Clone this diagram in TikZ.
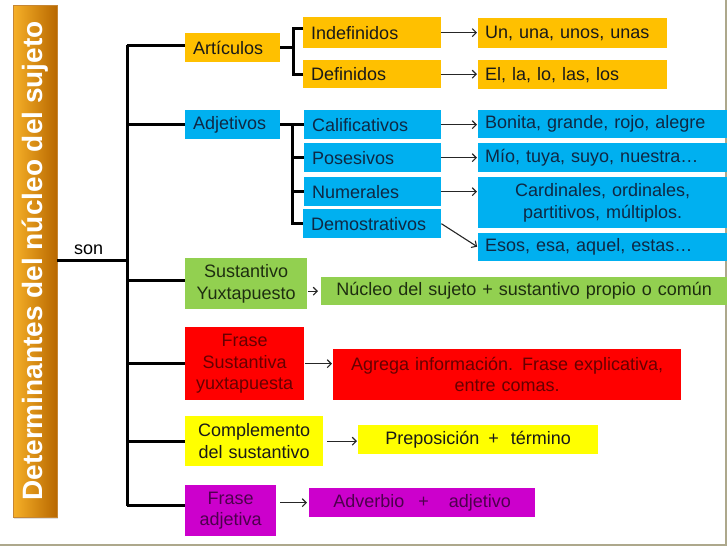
\documentclass[tikz,border=0pt]{standalone}
\usepackage{fontspec}
\setmainfont{Liberation Sans}
\usetikzlibrary{arrows.meta}
\usetikzlibrary{shadows}

\definecolor{artorange}{HTML}{FFC000}
\definecolor{adjblue}{HTML}{00B0F0}
\definecolor{sustgreen}{HTML}{92D050}
\definecolor{frasered}{HTML}{FF0000}
\definecolor{complyellow}{HTML}{FFFF00}
\definecolor{adjpurple}{HTML}{CC00CC}
\definecolor{framegray}{HTML}{ADA88C}
\definecolor{barlight}{HTML}{F6B028}
\definecolor{bardark}{HTML}{B86800}

\tikzstyle{cell}=[rectangle, anchor=north west, inner xsep=8pt, inner ysep=0pt,
  font=\fontsize{18}{21.5}\selectfont]
\tikzstyle{lcell}=[cell, align=left]
\tikzstyle{ccell}=[cell, align=center]
\tikzstyle{orange}=[fill=artorange, text=black!90]
\tikzstyle{blue}=[fill=adjblue, text={rgb,255:red,15;green,40;blue,68}]
\tikzstyle{green}=[fill=sustgreen, text={rgb,255:red,30;green,46;blue,16}]
\tikzstyle{red}=[fill=frasered, text={rgb,255:red,102;green,0;blue,0}]
\tikzstyle{yellow}=[fill=complyellow, text=black!90]
\tikzstyle{purple}=[fill=adjpurple, text={rgb,255:red,77;green,0;blue,77}]
\tikzstyle{titlebar}=[rectangle, inner sep=0pt, minimum width=44pt, minimum height=512pt,
  left color=barlight, right color=bardark, draw=bardark!80, text=white,
  font=\bfseries\fontsize{28}{28}\selectfont,
  drop shadow={opacity=.25, shadow xshift=1pt, shadow yshift=-2pt}]
\tikzstyle{branch}=[line width=3pt, draw=black]
\tikzstyle{arr}=[-{Straight Barb[length=4pt,width=8pt]}, line width=1.1pt, draw=black!85]

\begin{document}
\begin{tikzpicture}[x=1pt, y=-1pt]
\useasboundingbox (0,0) rectangle (728,546);
\draw[framegray, line width=1.6pt] (0,545) -- (726,545) -- (726,0);

\node[titlebar] (bar) at (35,261) {\rotatebox{90}{Determinantes del núcleo del sujeto}};
\node[anchor=base west, inner sep=0pt, font=\fontsize{18}{21.5}\selectfont] (son) at (74,254) {son};

% first level
\node[lcell, orange, text width=79pt, minimum height=29pt] at (185,33) (articulos) {Artículos};
\node[lcell, blue, text width=79pt, minimum height=29pt] at (185,110) (adjetivos) {Adjetivos};
\node[ccell, green, text width=106pt, minimum height=51pt] at (185,258) (sust) {Sustantivo\\Yuxtapuesto};
\node[ccell, red, text width=103pt, minimum height=73pt] at (185,327) (frasesust) {Frase\\Sustantiva\\yuxtapuesta};
\node[ccell, yellow, text width=122pt, minimum height=50pt] at (185,416) (compl) {Complemento\\del sustantivo};
\node[ccell, purple, text width=75pt, minimum height=51pt] at (185,485) (fraseadj) {Frase\\adjetiva};

% second level
\node[lcell, orange, text width=122pt, minimum height=31pt] at (303,17) (indef) {Indefinidos};
\node[lcell, orange, text width=122pt, minimum height=28pt] at (303,60) (def) {Definidos};
\node[lcell, blue, text width=121pt, minimum height=29pt] at (304,110) (calif) {Calificativos};
\node[lcell, blue, text width=121pt, minimum height=29pt] at (304,143) (poses) {Posesivos};
\node[lcell, blue, text width=121pt, minimum height=29pt] at (304,177) (numer) {Numerales};
\node[lcell, blue, text width=122pt, minimum height=29pt] at (303,209) (demost) {Demostrativos};

% examples
\node[lcell, orange, text width=175pt, inner xsep=7pt, minimum height=30pt] at (478,18) (un) {Un, una, unos, unas};
\node[lcell, orange, text width=175pt, inner xsep=7pt, minimum height=29pt] at (478,60) (el) {El, la, lo, las, los};
\node[lcell, blue, text width=235pt, inner xsep=7pt, minimum height=28pt] at (478,110) (bonita) {Bonita, grande, rojo, alegre};
\node[lcell, blue, text width=235pt, inner xsep=7pt, minimum height=29pt] at (478,143) (mio) {Mío, tuya, suyo, nuestra…};
\node[ccell, blue, text width=235pt, inner xsep=7pt, minimum height=51pt] at (478,177) (cardin) {Cardinales, ordinales,\\partitivos, múltiplos.};
\node[lcell, blue, text width=235pt, inner xsep=7pt, minimum height=28pt] at (478,233) (esos) {Esos, esa, aquel, estas…};
\node[ccell, green, text width=390pt, minimum height=28pt] at (321,277) (nucleo) {Núcleo del sujeto + sustantivo propio o común};
\node[ccell, red, text width=332pt, minimum height=51pt] at (333,349) (agrega) {Agrega información. Frase explicativa,\\entre comas.};
\node[ccell, yellow, text width=224pt, minimum height=29pt] at (358,425) (prepos) {Preposición\hspace{9pt}+\hspace{12pt}término};
\node[ccell, purple, text width=210pt, minimum height=29pt] at (309,488) (adverbio) {Adverbio\hspace{14pt}+\hspace{20pt}adjetivo};

% trunk
\coordinate (trunk) at (127,260);
\draw[branch] (bar.east |- trunk) -- (trunk);
\draw[branch] ([yshift=2.5pt]articulos.west -| trunk) -- ([yshift=5pt]fraseadj.west -| trunk);
\foreach \n/\s in {articulos/2.5, adjetivos/0, sust/3.5, frasesust/0, compl/0, fraseadj/5}
  \draw[branch] ([yshift=\s pt]\n.west -| trunk) -- ([yshift=\s pt]\n.west);

% brackets
\coordinate (artbr) at ([xshift=-10pt]indef.west);
\draw[branch] ([yshift=4pt]indef.west) -| (artbr) |- (def.west);
\draw[branch] (articulos.east) -- (articulos.east -| artbr);
\coordinate (adjbr) at ([xshift=-12pt]calif.west);
\draw[branch] (adjetivos.east) -- (calif.west);
\draw[branch] (adjbr) |- (demost.west);
\draw[branch] (adjbr |- poses.west) -- (poses.west);
\draw[branch] (adjbr |- numer.west) -- (numer.west);

% arrows
\draw[arr, shorten >=1pt] (indef.east) -- (indef.east -| un.west);
\draw[arr, shorten >=1pt] (def.east) -- (def.east -| el.west);
\draw[arr, shorten >=1pt] (calif.east) -- (calif.east -| bonita.west);
\draw[arr, shorten >=1pt] (poses.east) -- (poses.east -| mio.west);
\draw[arr, shorten >=1pt] (numer.east) -- (numer.east -| cardin.west);
\draw[arr, shorten >=1pt] (demost.east) -- (esos.west);
\draw[arr, shorten <=1pt, shorten >=3pt] (sust.east |- nucleo.west) -- (nucleo.west);
\draw[arr, shorten <=1pt, shorten >=1pt] (frasesust.east) -- (frasesust.east -| agrega.west);
\draw[arr, shorten <=4pt, shorten >=1pt] (compl.east) -- (compl.east -| prepos.west);
\draw[arr, shorten <=4pt, shorten >=2pt] (fraseadj.east |- adverbio.west) -- (adverbio.west);

\end{tikzpicture}
\end{document}
